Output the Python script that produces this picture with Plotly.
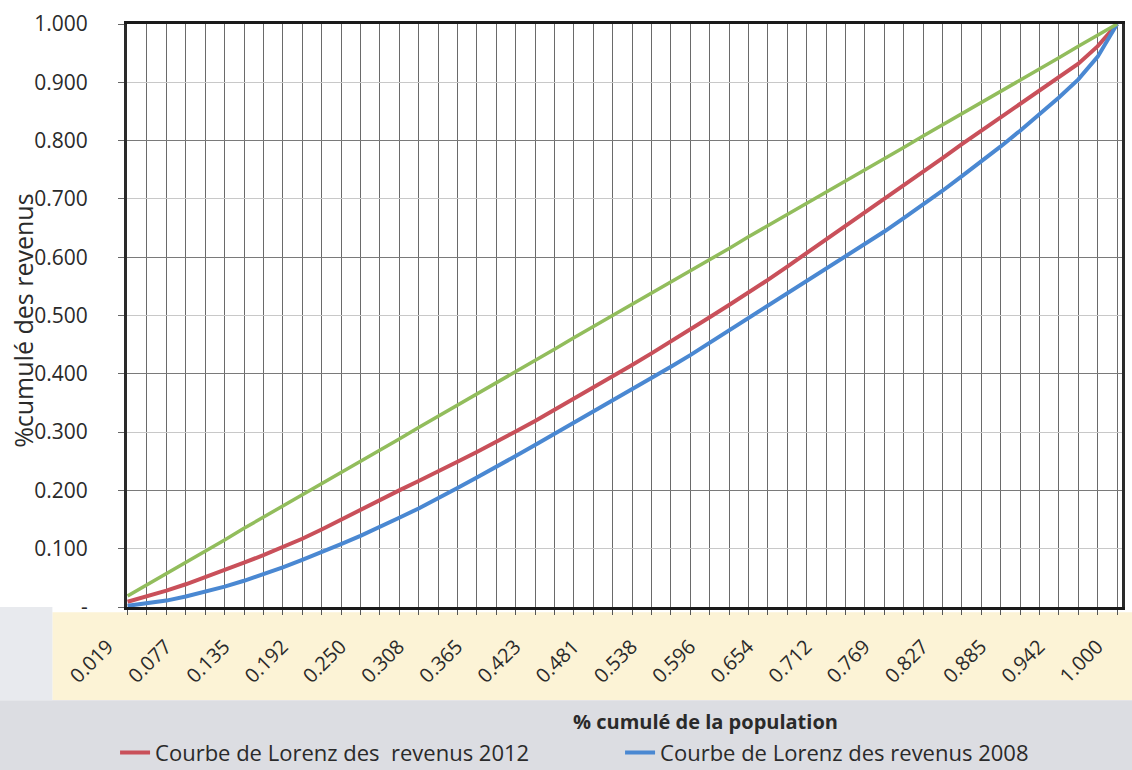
import plotly.graph_objects as go

# Cumulative population share (52 equal groups)
population = [
    "0.019", "0.038", "0.058", "0.077", "0.096", "0.115", "0.135", "0.154", "0.173", "0.192",
    "0.212", "0.231", "0.250", "0.269", "0.288", "0.308", "0.327", "0.346", "0.365", "0.385",
    "0.404", "0.423", "0.442", "0.462", "0.481", "0.500", "0.519", "0.538", "0.558", "0.577",
    "0.596", "0.615", "0.635", "0.654", "0.673", "0.692", "0.712", "0.731", "0.750", "0.769",
    "0.788", "0.808", "0.827", "0.846", "0.865", "0.885", "0.904", "0.923", "0.942", "0.962",
    "0.981", "1.000",
]

# Line of perfect equality
equality = [
    0.019, 0.038, 0.058, 0.077, 0.096, 0.115, 0.135, 0.154, 0.173, 0.192,
    0.212, 0.231, 0.250, 0.269, 0.288, 0.308, 0.327, 0.346, 0.365, 0.385,
    0.404, 0.423, 0.442, 0.462, 0.481, 0.500, 0.519, 0.538, 0.558, 0.577,
    0.596, 0.615, 0.635, 0.654, 0.673, 0.692, 0.712, 0.731, 0.750, 0.769,
    0.788, 0.808, 0.827, 0.846, 0.865, 0.885, 0.904, 0.923, 0.942, 0.962,
    0.981, 1.000,
]

# Cumulative income share, 2012
lorenz_2012 = [
    0.009, 0.018, 0.028, 0.039, 0.051, 0.063, 0.076, 0.089, 0.103, 0.117,
    0.133, 0.150, 0.167, 0.184, 0.200, 0.216, 0.232, 0.249, 0.266, 0.283,
    0.301, 0.319, 0.338, 0.357, 0.376, 0.395, 0.415, 0.435, 0.455, 0.476,
    0.497, 0.518, 0.539, 0.561, 0.584, 0.607, 0.630, 0.653, 0.676, 0.699,
    0.722, 0.746, 0.770, 0.794, 0.817, 0.840, 0.863, 0.885, 0.907, 0.932,
    0.962, 1.000,
]

# Cumulative income share, 2008
lorenz_2008 = [
    0.002, 0.006, 0.011, 0.018, 0.026, 0.035, 0.045, 0.056, 0.068, 0.081,
    0.094, 0.108, 0.122, 0.137, 0.153, 0.169, 0.186, 0.204, 0.222, 0.240,
    0.259, 0.278, 0.297, 0.316, 0.335, 0.354, 0.373, 0.392, 0.412, 0.432,
    0.453, 0.474, 0.496, 0.516, 0.537, 0.558, 0.579, 0.600, 0.622, 0.644,
    0.667, 0.690, 0.714, 0.739, 0.764, 0.790, 0.817, 0.845, 0.874, 0.905,
    0.944, 1.000,
]

y_ticks = [0.0, 0.1, 0.2, 0.3, 0.4, 0.5, 0.6, 0.7, 0.8, 0.9, 1.0]
y_labels = ["-", "0.100", "0.200", "0.300", "0.400", "0.500", "0.600", "0.700", "0.800", "0.900", "1.000"]

# every third category carries a label
x_labels = [c if i % 3 == 0 else "" for i, c in enumerate(population)]

FONT = "Open Sans, Lato, sans-serif"
TEXT = "#2a2a2a"

fig = go.Figure()

fig.add_trace(go.Scatter(
    x=population, y=equality, mode="lines", yaxis="y2",
    line=dict(color="#92bd5c", width=3.5), showlegend=False, hoverinfo="skip",
))
fig.add_trace(go.Scatter(
    x=population, y=lorenz_2012, mode="lines",
    name="Courbe de Lorenz des  revenus 2012",
    line=dict(color="#c9505a", width=4),
))
fig.add_trace(go.Scatter(
    x=population, y=lorenz_2008, mode="lines",
    name="Courbe de Lorenz des revenus 2008",
    line=dict(color="#4a88d2", width=4),
))

# scanned-paper tint bands under the category labels and legend
fig.add_shape(type="rect", xref="paper", yref="paper", layer="below",
              x0=-0.075, x1=1.02, y0=-0.16, y1=-0.009,
              fillcolor="#fcf3d6", line=dict(width=0))
fig.add_shape(type="rect", xref="paper", yref="paper", layer="below",
              x0=-0.13, x1=1.02, y0=-0.285, y1=-0.16,
              fillcolor="#dcdde2", line=dict(width=0))
fig.add_shape(type="rect", xref="paper", yref="paper", layer="below",
              x0=-0.13, x1=-0.075, y0=-0.16, y1=-0.0,
              fillcolor="#e8eaee", line=dict(width=0))

fig.update_layout(
    width=1132, height=770,
    margin=dict(l=127, r=10, t=24, b=163, autoexpand=False),
    paper_bgcolor="white", plot_bgcolor="white",
    font=dict(family=FONT, color=TEXT),
    showlegend=True,
    legend=dict(
        orientation="h", x=-0.012, y=-0.214, xanchor="left", yanchor="top",
        font=dict(size=22, color=TEXT), entrywidth=460, entrywidthmode="pixels",
        bgcolor="rgba(0,0,0,0)", traceorder="normal",
    ),
    xaxis=dict(
        type="category", range=[-0.03, 51.25], automargin=False,
        tickmode="array", tickvals=population, ticktext=x_labels,
        tickangle=-45, tickfont=dict(size=20, color=TEXT),
        ticks="outside", ticklen=5, tickcolor="#555",
        showgrid=True, gridcolor="#6a6a6a", gridwidth=1,
        showline=True, linecolor="#1a1a1a", linewidth=3, mirror=True,
        ticklabelstandoff=12, ticklabelshift=-20, zeroline=False,
    ),
    yaxis=dict(
        range=[0, 1], tickmode="array", tickvals=y_ticks, ticktext=y_labels,
        tickfont=dict(size=21, color=TEXT), automargin=False,
        ticks="outside", ticklen=6, tickcolor="#666",
        showgrid=True, gridcolor="#c8c8c8", gridwidth=1,
        showline=True, linecolor="#2a2a2a", linewidth=3, mirror=True,
        zeroline=False, ticklabelstandoff=26,
    ),
    yaxis2=dict(
        overlaying="y", range=[0, 1], dtick=0.2, tick0=0,
        showticklabels=False, showgrid=True, gridcolor="#7a7a7a", gridwidth=1,
        zeroline=False, showline=False,
    ),
    annotations=[
        dict(text="%cumulé des revenus", textangle=-90,
             xref="paper", yref="paper", x=-0.104, y=0.49,
             xanchor="center", yanchor="middle", showarrow=False,
             font=dict(size=25, color=TEXT)),
        dict(text="<b>% cumulé de la population</b>",
             xref="paper", yref="paper", x=0.581, y=-0.197,
             xanchor="center", yanchor="middle", showarrow=False,
             font=dict(size=20, color=TEXT)),
    ],
)

fig.write_html("out.html")
